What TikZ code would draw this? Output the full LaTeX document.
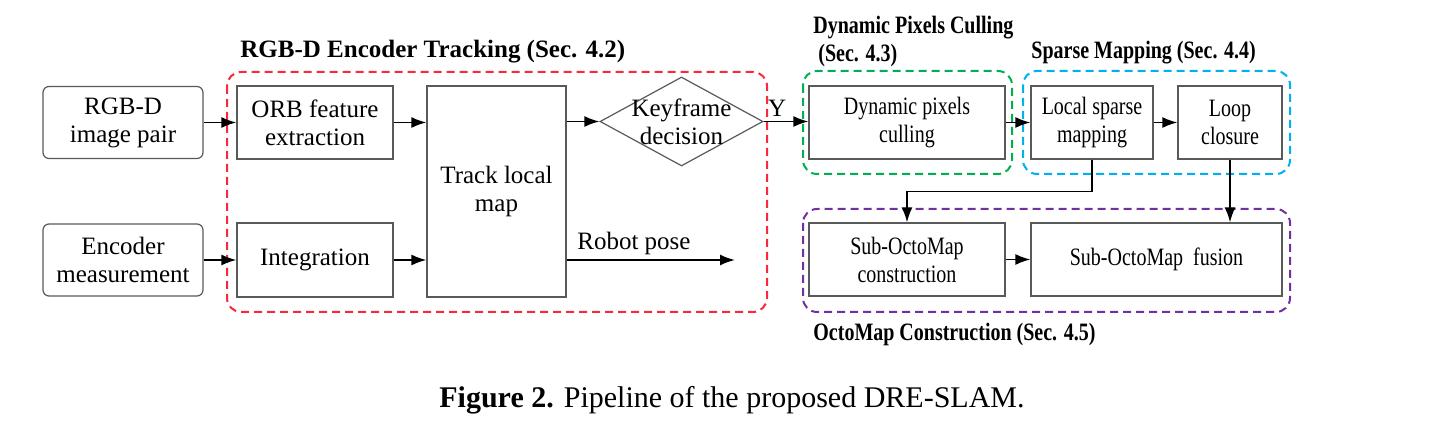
\documentclass[tikz,border=0pt]{standalone}
\usepackage{fontspec}
\setmainfont{Liberation Serif}
\newfontfamily\narrowserif[FakeStretch=0.8]{Liberation Serif}
\usepackage{xcolor}
\usepackage{tikz}
\usetikzlibrary{arrows.meta,positioning,calc,shapes.geometric}
\definecolor{trackred}{RGB}{250,40,60}
\definecolor{cullgreen}{RGB}{0,176,80}
\definecolor{sparsecyan}{RGB}{0,176,240}
\definecolor{octopurple}{RGB}{112,48,160}
\newcommand{\boxfont}{\fontsize{12.5}{14}\selectfont}
\newcommand{\mapfont}{\narrowserif\fontsize{12.5}{14}\selectfont}

\begin{document}
\begin{tikzpicture}[x=0.5pt,y=-0.5pt,>={Latex[length=7.5pt,width=5.5pt]},
  blk/.style={draw=black!65,line width=0.6pt,align=center,inner sep=0pt,font=\boxfont},
  mapblk/.style={blk,font=\mapfont,minimum height=36.5pt},
  inbox/.style={blk,rounded corners=3pt,minimum width=80pt,minimum height=36pt},
  grp/.style={line width=1pt,dash pattern=on 4pt off 2.5pt,rounded corners=7pt},
  ttl/.style={font=\boxfont\bfseries,inner sep=0pt},
  mapttl/.style={font=\mapfont\bfseries,inner sep=0pt},
  flow/.style={->,line width=0.9pt}]
        \useasboundingbox (0,0) rectangle (1447,432);
        % groups
        \draw[grp,trackred] (227,72) rectangle (767,312);
        \draw[grp,cullgreen] (803,71) rectangle (1012,174);
        \draw[grp,sparsecyan] (1023,71) rectangle (1290,174);
        \draw[grp,octopurple] (803,209) rectangle (1290,312);
        \node[ttl,anchor=base west] (ttrack) at (240,58) {RGB-D Encoder Tracking (Sec. 4.2)};
        \node[mapttl,anchor=base west,align=left] (tcull) at (813,62) {Dynamic Pixels Culling\\\hspace{2.5pt}(Sec. 4.3)};
        \node[mapttl,anchor=base west] (tsparse) at (1031,59) {Sparse Mapping (Sec. 4.4)};
        \node[mapttl,anchor=base west] (tocto) at (813,341) {OctoMap Construction (Sec. 4.5)};
        % inputs
        \node[inbox] (img) at (123,122.5) {RGB-D\\image pair};
        \node[inbox] (enc) at (123,260) {Encoder\\measurement};
        % tracking
        \node[blk,minimum width=78pt,minimum height=36.5pt] (orb) at (315,122.5) {ORB feature\\extraction};
        \node[blk,minimum width=78pt,minimum height=37pt] (integ) at (315,260) {Integration};
        \node[blk,minimum width=69.5pt,minimum height=105.5pt] (track) at (496.5,191.5) {Track local\\map};
        \node[diamond,draw=black!65,line width=0.6pt,inner sep=0pt,minimum width=81.5pt,minimum height=44.5pt] (key) at (681.5,121.5) {};
        \node[font=\boxfont,align=center,inner sep=0pt] (keytxt) at (key.center) {Keyframe\\decision};
        \coordinate (pose) at (735,260);
        % culling and mapping
        \node[mapblk,minimum width=98pt] (dyn) at (907,122.5) {Dynamic pixels\\culling};
        \node[mapblk,minimum width=61pt] (lsm) at (1092,122.5) {Local sparse\\mapping};
        \node[mapblk,minimum width=52pt] (loop) at (1230,122.5) {Loop\\closure};
        \node[mapblk,minimum width=98pt] (sub) at (907,259.5) {Sub-OctoMap\\construction};
        \node[mapblk,minimum width=125.5pt] (fus) at (1156.5,259.5) {Sub-OctoMap\ \ fusion};
        % arrows
        \draw[flow] (img) -- (orb);
        \draw[flow] (enc) -- (integ);
        \draw[flow] (orb.east) -- (orb.east -| track.west);
        \draw[flow] (integ.east) -- (integ.east -| track.west);
        \draw[flow] (key.west -| track.east) -- (key.west);
        \draw[flow] (key.east) -- (key.east -| dyn.west) node[pos=0.3,above=1pt,font=\boxfont,inner sep=1pt] (yes) {Y};
        \draw[flow] (integ.east -| track.east) -- (pose) node[pos=0.4,above=2pt,font=\boxfont,inner sep=0pt] (rpose) {Robot pose};
        \draw[flow] (dyn) -- (lsm);
        \draw[flow] (lsm) -- (loop);
        \draw[flow] (lsm.south) -- ++(0,32) -| (sub.north);
        \draw[flow] (loop.south) -- (loop.south |- fus.north);
        \draw[flow] (sub) -- (fus);
        % caption
        \node[anchor=base,font=\fontsize{15}{17}\selectfont,inner sep=0pt] (cap) at (732,408) {\textbf{Figure 2.} Pipeline of the proposed DRE-SLAM.};
\end{tikzpicture}
\end{document}
